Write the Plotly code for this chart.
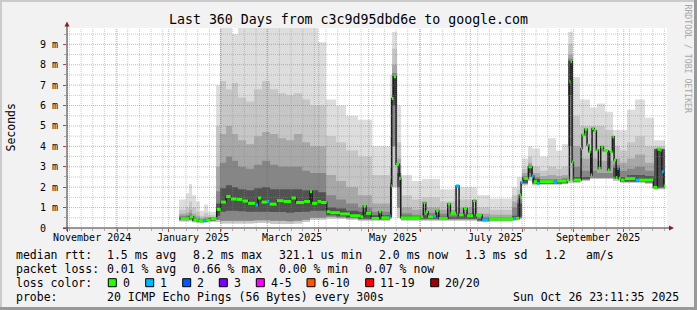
import plotly.graph_objects as go
from datetime import datetime, timedelta

# ------------------------------------------------------------------ data
x_start = "2024-10-31 23:11:35"
x_end = "2025-10-26 23:11:35"
y_max = 9.8

title_text = "Last 360 Days from c3c9d95dbd6e to google.com"
y_label = "Seconds"
watermark = "RRDTOOL / TOBI OETIKER"

month_starts = ["2024-11-01", "2024-12-01", "2025-01-01", "2025-02-01", "2025-03-01",
                "2025-04-01", "2025-05-01", "2025-06-01", "2025-07-01", "2025-08-01",
                "2025-09-01", "2025-10-01"]
week_grid_start = "2024-11-02 10:00"
month_label_dates = ["2024-11-15 18:00", "2025-01-15 18:00", "2025-03-15 18:00",
                     "2025-05-15 18:00", "2025-07-15 18:00", "2025-09-15 18:00"]
month_labels = ["November 2024", "January 2025", "March 2025", "May 2025",
                "July 2025", "September 2025"]
ytick_vals = [0, 1, 2, 3, 4, 5, 6, 7, 8, 9]
ytick_text = ["0\u00a0\u00a0", "1 m", "2 m", "3 m", "4 m", "5 m", "6 m", "7 m", "8 m", "9 m"]

# median rtt (ms) and number of lost pings (out of 20) per step
med_dates = [
    "2025-01-08 05:00", "2025-01-13 10:00", "2025-01-15 19:00", "2025-01-18 19:00",
    "2025-01-21 19:00", "2025-01-23 10:00", "2025-01-26 05:00", "2025-01-29 19:00",
    "2025-02-01 05:00", "2025-02-04 10:00", "2025-02-07 05:00", "2025-02-10 19:00",
    "2025-02-14 05:00", "2025-02-17 14:00", "2025-02-22 00:00", "2025-02-23 14:00",
    "2025-02-25 14:00", "2025-03-01 00:00", "2025-03-02 10:00", "2025-03-06 19:00",
    "2025-03-10 19:00", "2025-03-15 14:00", "2025-03-18 10:00", "2025-03-23 05:00",
    "2025-03-26 19:00", "2025-03-28 00:00", "2025-03-31 05:00", "2025-04-02 10:00",
    "2025-04-05 19:00", "2025-04-07 19:00", "2025-04-13 19:00", "2025-04-19 19:00",
    "2025-04-26 05:00", "2025-04-27 19:00", "2025-04-29 10:00", "2025-05-02 14:00",
    "2025-05-07 05:00", "2025-05-08 14:00", "2025-05-13 14:00", "2025-05-14 05:00",
    "2025-05-14 19:00", "2025-05-16 00:00", "2025-05-17 10:00", "2025-05-19 05:00",
    "2025-05-20 05:00", "2025-06-01 05:00", "2025-06-02 19:00", "2025-06-04 05:00",
    "2025-06-05 14:00", "2025-06-08 19:00", "2025-06-10 10:00", "2025-06-12 00:00",
    "2025-06-17 10:00", "2025-06-19 00:00", "2025-06-22 10:00", "2025-06-24 05:00",
    "2025-06-27 00:00", "2025-06-29 00:00", "2025-07-02 14:00", "2025-07-04 05:00",
    "2025-07-08 00:00", "2025-07-12 00:00", "2025-07-27 00:00", "2025-07-28 05:00",
    "2025-07-30 10:00", "2025-07-31 10:00", "2025-08-01 00:00", "2025-08-01 19:00",
    "2025-08-04 19:00", "2025-08-07 00:00", "2025-08-08 00:00", "2025-08-10 00:00",
    "2025-08-11 14:00", "2025-08-20 00:00", "2025-08-22 00:00", "2025-08-27 19:00",
    "2025-08-29 10:00", "2025-08-30 02:00", "2025-08-31 00:00", "2025-08-31 19:00",
    "2025-09-05 10:00", "2025-09-06 00:00", "2025-09-07 14:00", "2025-09-09 00:00",
    "2025-09-10 00:00", "2025-09-11 05:00", "2025-09-12 00:00", "2025-09-13 05:00",
    "2025-09-14 14:00", "2025-09-15 19:00", "2025-09-17 05:00", "2025-09-18 19:00",
    "2025-09-21 14:00", "2025-09-22 14:00", "2025-09-24 05:00", "2025-09-25 05:00",
    "2025-09-26 10:00", "2025-09-27 05:00", "2025-09-28 00:00", "2025-09-29 05:00",
    "2025-10-01 14:00", "2025-10-08 00:00", "2025-10-10 05:00", "2025-10-18 19:00",
    "2025-10-21 05:00", "2025-10-23 00:00", "2025-10-23 19:00", "2025-10-25 00:00",
]
med_end = "2025-10-25 19:00"
med_ms = [
    0.46, 0.55, 0.40, 0.35, 0.35, 0.39, 0.46, 0.91,
    1.27, 1.54, 1.42, 1.40, 1.32, 1.21, 1.13, 1.47,
    1.27, 1.30, 1.17, 1.34, 1.30, 1.47, 1.25, 1.30,
    1.78, 1.21, 1.30, 1.25, 0.80, 0.75, 0.69, 0.60,
    0.55, 1.08, 0.72, 0.47, 0.80, 0.50, 0.57, 2.07,
    6.35, 7.41, 3.12, 2.43, 0.50, 0.55, 1.24, 0.80,
    0.55, 0.57, 0.85, 0.47, 1.18, 0.72, 2.06, 0.64,
    0.96, 0.60, 1.34, 0.64, 0.39, 0.44, 0.47, 0.47,
    1.62, 2.24, 2.25, 2.43, 3.00, 2.55, 2.27, 2.19,
    2.27, 2.25, 2.30, 2.35, 7.17, 8.15, 3.22, 2.35,
    3.90, 4.56, 4.84, 4.07, 3.74, 2.60, 4.88, 4.77,
    3.82, 2.92, 3.98, 3.79, 2.84, 3.74, 4.47, 3.33,
    2.48, 2.92, 2.43, 2.35, 2.42, 2.35, 2.35, 1.99,
    3.86, 3.82, 2.76, 2.06,
]
med_loss = [
    0, 0, 0, 0, 1, 0, 0, 0,
    0, 0, 0, 0, 0, 0, 1, 0,
    0, 1, 0, 0, 0, 0, 0, 0,
    0, 0, 0, 0, 0, 0, 0, 0,
    0, 0, 0, 0, 0, 0, 1, 0,
    0, 0, 0, 0, 0, 0, 0, 0,
    0, 1, 0, 0, 0, 0, 1, 0,
    0, 0, 0, 0, 1, 0, 1, 0,
    0, 0, 1, 0, 0, 1, 0, 1,
    0, 1, 0, 0, 0, 0, 0, 0,
    0, 0, 0, 0, 0, 0, 0, 0,
    0, 0, 0, 0, 0, 0, 0, 0,
    0, 1, 0, 0, 0, 1, 0, 0,
    0, 0, 1, 0,
]

# smoke: sorted-ping envelopes per time bin (ms); bin i spans smoke_edges[i]..[i+1]
smoke_edges = [
    "2025-01-07 05:00", "2025-01-11 10:00", "2025-01-13 05:00", "2025-01-15 00:00",
    "2025-01-17 10:00", "2025-01-19 19:00", "2025-01-22 05:00", "2025-01-24 14:00",
    "2025-01-29 10:00", "2025-01-31 19:00", "2025-02-04 10:00", "2025-02-08 00:00",
    "2025-02-11 14:00", "2025-02-16 10:00", "2025-02-21 05:00", "2025-02-26 00:00",
    "2025-03-02 19:00", "2025-03-07 14:00", "2025-03-12 10:00", "2025-03-17 05:00",
    "2025-03-22 00:00", "2025-03-26 19:00", "2025-03-31 14:00", "2025-04-05 10:00",
    "2025-04-11 10:00", "2025-04-17 10:00", "2025-04-24 14:00", "2025-05-03 00:00",
    "2025-05-13 19:00", "2025-05-15 00:00", "2025-05-18 00:00", "2025-05-20 10:00",
    "2025-05-27 00:00", "2025-06-02 00:00", "2025-06-12 19:00", "2025-06-23 00:00",
    "2025-07-05 00:00", "2025-07-12 19:00", "2025-07-26 00:00", "2025-07-29 00:00",
    "2025-08-01 00:00", "2025-08-04 14:00", "2025-08-07 00:00", "2025-08-11 19:00",
    "2025-08-16 14:00", "2025-08-21 10:00", "2025-08-25 00:00", "2025-08-28 14:00",
    "2025-08-31 14:00", "2025-09-04 19:00", "2025-09-10 19:00", "2025-09-15 00:00",
    "2025-09-19 19:00", "2025-09-24 14:00", "2025-09-28 19:00", "2025-10-03 00:00",
    "2025-10-07 19:00", "2025-10-13 19:00", "2025-10-19 05:00", "2025-10-25 19:00",
]
smoke_top = [1.4, 1.7, 2.15, 1.6, 1.3, 0.85, 1.15, 0.8,
             7.0, 10, 10, 9.5, 10, 10, 10, 10,
             10, 10, 10, 10, 10, 10, 9.1, 6.3,
             6.0, 5.5, 5.3, 4.0, 7.5, 9.6, 6.0, 2.6,
             2.3, 2.4, 1.9, 2.0, 1.6, 1.45, 2.0, 2.5,
             3.4, 4.0, 3.9, 3.5, 4.4, 3.8, 4.1, 9.6,
             7.4, 6.3, 5.9, 6.1, 5.7, 4.8, 4.8, 5.8,
             6.3, 5.4, 4.3]
smoke_l2 = [0.9, 1.0, 1.3, 1.0, 0.8, 0.6, 0.75, 0.62,
            5.0, 7.2, 6.8, 7.1, 6.4, 6.2, 6.8, 7.2,
            6.8, 6.6, 6.5, 6.6, 6.3, 6.0, 6.0, 4.5,
            4.2, 3.8, 3.5, 2.6, 4.5, 8.8, 4.2, 1.6,
            1.4, 1.5, 1.3, 1.4, 1.0, 0.9, 1.6, 1.9,
            2.9, 3.5, 3.0, 2.8, 3.0, 2.9, 3.0, 9.0,
            5.5, 5.0, 5.0, 5.0, 4.8, 4.0, 3.8, 4.2,
            4.5, 4.0, 4.0]
smoke_l3 = [0.7, 0.75, 0.9, 0.7, 0.6, 0.5, 0.55, 0.52,
            3.0, 4.6, 5.0, 4.6, 4.3, 4.1, 4.5, 4.7,
            4.6, 4.4, 4.3, 4.6, 4.2, 4.0, 4.0, 2.6,
            2.3, 2.0, 1.6, 1.2, 3.0, 8.0, 3.4, 1.0,
            0.9, 1.0, 0.9, 1.0, 0.7, 0.65, 1.3, 1.6,
            2.7, 3.2, 2.7, 2.55, 2.6, 2.55, 2.6, 8.5,
            4.0, 3.4, 3.4, 3.3, 3.3, 3.4, 3.2, 3.4,
            3.6, 3.2, 3.9]
smoke_l4 = [0.6, 0.62, 0.72, 0.55, 0.48, 0.43, 0.46, 0.48,
            1.8, 3.2, 3.5, 3.3, 3.0, 2.9, 3.1, 3.3,
            3.1, 3.0, 3.0, 3.0, 2.8, 2.7, 2.7, 1.6,
            1.4, 1.2, 1.0, 0.8, 2.4, 7.6, 3.1, 0.72,
            0.65, 0.75, 0.7, 0.75, 0.55, 0.52, 1.0, 1.4,
            2.55, 3.1, 2.5, 2.4, 2.4, 2.4, 2.45, 8.3,
            3.0, 2.8, 2.8, 2.7, 2.7, 3.1, 2.8, 2.9,
            3.0, 2.8, 3.87]
smoke_l5 = [0.52, 0.55, 0.62, 0.48, 0.42, 0.4, 0.42, 0.5,
            1.2, 1.95, 2.1, 2.0, 1.9, 1.85, 1.95, 2.0,
            1.9, 1.9, 1.9, 1.9, 1.85, 1.85, 1.75, 1.0,
            0.95, 0.85, 0.8, 0.62, 2.2, 7.45, 2.7, 0.6,
            0.58, 0.62, 0.55, 0.65, 0.45, 0.48, 0.6, 1.2,
            2.48, 3.05, 2.4, 2.32, 2.32, 2.33, 2.36, 8.2,
            2.5, 2.5, 2.5, 2.5, 2.5, 2.95, 2.5, 2.6,
            2.6, 2.55, 3.86]
smoke_min = [0.32, 0.32, 0.33, 0.28, 0.25, 0.25, 0.27, 0.3,
             0.3, 0.22, 0.22, 0.22, 0.22, 0.22, 0.25, 0.25,
             0.2, 0.2, 0.2, 0.22, 0.3, 0.4, 0.4, 0.45,
             0.45, 0.4, 0.35, 0.35, 0.45, 2.0, 0.5, 0.35,
             0.35, 0.35, 0.35, 0.35, 0.3, 0.32, 0.35, 0.45,
             2.1, 2.3, 2.1, 2.12, 2.12, 2.12, 2.15, 2.2,
             2.2, 2.3, 2.4, 2.4, 2.4, 2.3, 2.2, 2.2,
             2.2, 2.15, 1.9]
smoke_lo = [0.38, 0.38, 0.4, 0.33, 0.3, 0.28, 0.3, 0.35,
            0.4, 0.35, 0.35, 0.35, 0.35, 0.35, 0.38, 0.38,
            0.35, 0.35, 0.33, 0.35, 0.4, 0.5, 0.5, 0.55,
            0.52, 0.48, 0.42, 0.4, 0.5, 4.0, 1.0, 0.42,
            0.42, 0.42, 0.42, 0.42, 0.35, 0.37, 0.4, 0.5,
            2.15, 2.5, 2.15, 2.15, 2.15, 2.15, 2.18, 4.0,
            2.25, 2.35, 2.45, 2.45, 2.45, 2.4, 2.25, 2.25,
            2.25, 2.2, 1.95]
smoke_dk = [0.42, 0.42, 0.48, 0.36, 0.32, 0.3, 0.33, 0.38,
            0.6, 0.8, 0.85, 0.85, 0.82, 0.8, 0.8, 0.8,
            0.78, 0.78, 0.75, 0.78, 0.8, 0.85, 0.85, 0.62,
            0.58, 0.52, 0.45, 0.43, 0.55, 6.0, 2.0, 0.45,
            0.45, 0.45, 0.45, 0.45, 0.37, 0.4, 0.42, 0.55,
            2.2, 2.7, 2.2, 2.18, 2.18, 2.18, 2.2, 6.5,
            2.28, 2.4, 2.5, 2.5, 2.5, 2.5, 2.28, 2.28,
            2.28, 2.25, 2.0]

loss_colors = {0: "#26ff00", 1: "#00b8ff", 2: "#0059ff", 3: "#7e00ff",
               5: "#ff00ff", 10: "#ff5500", 19: "#ff0000", 20: "#a00000"}
loss_labels = ["0", "1", "2", "3", "4-5", "6-10", "11-19", "20/20"]

legend_row1 = ["median rtt:", "1.5 ms avg", "8.2 ms max", "321.1 us min",
               "2.0 ms now", "1.3 ms sd", "1.2", "am/s"]
legend_row2 = ["packet loss:", "0.01 % avg", "0.66 % max", "0.00 % min", "0.07 % now"]
legend_row3 = "loss color:"
legend_row4 = ["probe:", "20 ICMP Echo Pings (56 Bytes) every 300s", "Sun Oct 26 23:11:35 2025"]

# ------------------------------------------------------------------ layout helpers
W, H = 697, 310
PL, PR, PT, PB = 67, 667, 28, 228
MONO = "DejaVu Sans Mono"


def fx(px):
    return (px - PL) / (PR - PL)


def fy(py):
    return (PB - py) / (PB - PT)


fig = go.Figure()


def stepvals(v):
    return list(v) + [v[-1]]


bands = [
    (smoke_min, smoke_top, "#dddddd"),
    (smoke_min, smoke_l2, "#c6c6c6"),
    (smoke_lo, smoke_l3, "#a8a8a8"),
    (smoke_lo, smoke_l4, "#868686"),
    (smoke_dk, smoke_l5, "#525252"),
]
for lo, hi, col in bands:
    fig.add_trace(go.Scatter(x=smoke_edges, y=stepvals(lo), mode="lines",
                             line=dict(width=0, shape="hv"), hoverinfo="skip",
                             showlegend=False))
    fig.add_trace(go.Scatter(x=smoke_edges, y=stepvals(hi), mode="lines",
                             line=dict(width=0, shape="hv"), fill="tonexty",
                             fillcolor=col, hoverinfo="skip", showlegend=False))

# median: black step line + loss-coloured horizontal pieces
mx = med_dates + [med_end]
my = med_ms + [med_ms[-1]]
fig.add_trace(go.Scatter(x=mx, y=my, mode="lines",
                         line=dict(color="#1c1c1c", width=1.5, shape="hv"),
                         hoverinfo="skip", showlegend=False))
for cat, col in loss_colors.items():
    xs, ys = [], []
    for i, (v, l) in enumerate(zip(med_ms, med_loss)):
        if l == cat:
            xs += [mx[i], mx[i + 1], None]
            ys += [v, v, None]
    if xs:
        fig.add_trace(go.Scatter(x=xs, y=ys, mode="lines",
                                 line=dict(color=col, width=3),
                                 hoverinfo="skip", showlegend=False))

shapes = []
GRID_MINOR = "rgba(140,140,140,0.45)"
GRID_MAJOR = "rgba(210,60,60,0.45)"
DASH = "1px,1px"

t = datetime.strptime(week_grid_start, "%Y-%m-%d %H:%M")
tend = datetime.strptime(x_end, "%Y-%m-%d %H:%M:%S")
while t < tend:
    shapes.append(dict(type="line", xref="x", yref="paper", x0=t, x1=t, y0=0, y1=1,
                       line=dict(color=GRID_MINOR, width=1, dash=DASH), layer="above"))
    t += timedelta(days=7)
for k in range(1, 20):
    v = k * 0.5
    if v > y_max:
        break
    col = GRID_MAJOR if k % 2 == 0 else GRID_MINOR
    shapes.append(dict(type="line", xref="paper", yref="y", x0=0, x1=1, y0=v, y1=v,
                       line=dict(color=col, width=1, dash=DASH), layer="above"))
for m in month_starts:
    shapes.append(dict(type="line", xref="x", yref="paper", x0=m, x1=m, y0=0, y1=1,
                       line=dict(color=GRID_MAJOR, width=1, dash=DASH), layer="above"))

AX = "#3c3434"
ARROW = "#8e1c1c"
shapes.append(dict(type="line", xref="paper", yref="paper", x0=fx(67), x1=fx(67),
                   y0=fy(231), y1=fy(25), line=dict(color=AX, width=1), layer="above"))
shapes.append(dict(type="line", xref="paper", yref="paper", x0=fx(63), x1=fx(670),
                   y0=fy(228), y1=fy(228), line=dict(color=AX, width=1), layer="above"))
shapes.append(dict(type="path", xref="paper", yref="paper",
                   path=f"M {fx(64.5)} {fy(26.5)} L {fx(67)} {fy(21.5)} L {fx(69.5)} {fy(26.5)} Z",
                   fillcolor=ARROW, line=dict(width=0), layer="above"))
shapes.append(dict(type="path", xref="paper", yref="paper",
                   path=f"M {fx(669)} {fy(225.5)} L {fx(674)} {fy(228)} L {fx(669)} {fy(230.5)} Z",
                   fillcolor=ARROW, line=dict(width=0), layer="above"))

shapes += [
    dict(type="rect", xref="paper", yref="paper", x0=fx(0), x1=fx(697), y0=fy(0), y1=fy(2),
         fillcolor="#cbcbcb", line=dict(width=0), layer="below"),
    dict(type="rect", xref="paper", yref="paper", x0=fx(0), x1=fx(2), y0=fy(0), y1=fy(310),
         fillcolor="#cbcbcb", line=dict(width=0), layer="below"),
    dict(type="rect", xref="paper", yref="paper", x0=fx(0), x1=fx(697), y0=fy(307), y1=fy(310),
         fillcolor="#999999", line=dict(width=0), layer="below"),
    dict(type="rect", xref="paper", yref="paper", x0=fx(694), x1=fx(697), y0=fy(0), y1=fy(310),
         fillcolor="#999999", line=dict(width=0), layer="below"),
]

annotations = []


def text(px, py, s, size=11.5, anchor="left", color="#000000", angle=0, yanchor="middle"):
    annotations.append(dict(x=fx(px), y=fy(py), xref="paper", yref="paper", text=s,
                            showarrow=False, xanchor=anchor, yanchor=yanchor,
                            textangle=angle, borderpad=0, borderwidth=0,
                            font=dict(family=MONO, size=size, color=color)))


text(348, 19.5, title_text, size=13.25, anchor="center")
text(10.5, 128, y_label, size=11.5, anchor="center", angle=-90)
text(687.5, 59, watermark, size=8.2, anchor="center", color="#a6a6a6", angle=90)

for d, s in zip(month_label_dates, month_labels):
    annotations.append(dict(x=d, y=fy(237.5), xref="x", yref="paper", text=s,
                            showarrow=False, xanchor="center", yanchor="middle",
                            borderpad=0, borderwidth=0,
                            font=dict(family=MONO, size=10, color="#000000")))

row_y = [254.5, 268.5, 282.5, 296.5]
row1_x = [15.5, 106.8, 192.8, 278.8, 378.8, 464.5, 544.5, 585.5]
row2_x = [15.5, 106.8, 192.8, 278.8, 364.5]
row4_x = [15.5, 106.8, 512.8]
for s, x in zip(legend_row1, row1_x):
    text(x, row_y[0], s)
for s, x in zip(legend_row2, row2_x):
    text(x, row_y[1], s)
text(15.5, row_y[2], legend_row3)
box_x = [108.3, 145.7, 182.7, 219.3, 256.3, 307, 365.7, 430.7]
for bx, lab, col in zip(box_x, loss_labels, loss_colors.values()):
    shapes.append(dict(type="rect", xref="paper", yref="paper", x0=fx(bx), x1=fx(bx + 8),
                       y0=fy(278.7), y1=fy(286.7), fillcolor=col,
                       line=dict(color="#000000", width=1), layer="above"))
    text(bx + 14.5, row_y[2], lab)
for s, x in zip(legend_row4, row4_x):
    text(x, row_y[3], s)

fig.update_layout(
    width=W, height=H,
    margin=dict(l=PL, r=W - PR, t=PT, b=H - PB, pad=0),
    paper_bgcolor="#f2f2f2", plot_bgcolor="#ffffff",
    showlegend=False,
    shapes=shapes, annotations=annotations,
    xaxis=dict(type="date", range=[x_start, x_end], showgrid=False, zeroline=False,
               showline=False, tickvals=month_starts, showticklabels=False,
               ticks="outside", ticklen=3, tickcolor="#c04040", tickwidth=1,
               minor=dict(ticks="outside", ticklen=2, tickcolor="#aaaaaa",
                          dtick=7 * 86400000, tick0=week_grid_start, showgrid=False),
               fixedrange=True),
    yaxis=dict(range=[0, y_max], showgrid=False, zeroline=False, showline=False,
               tickvals=ytick_vals, ticktext=ytick_text, ticks="outside", ticklen=3,
               tickcolor="#c04040", tickwidth=1, ticklabelstandoff=3,
               tickfont=dict(family=MONO, size=10, color="#000000"),
               minor=dict(ticks="outside", ticklen=2, tickcolor="#aaaaaa", dtick=0.5,
                          showgrid=False),
               fixedrange=True),
)

fig.write_html("out.html")
